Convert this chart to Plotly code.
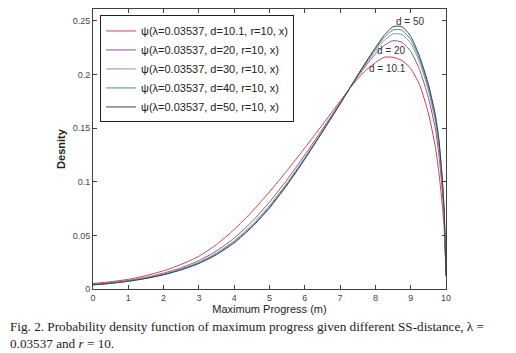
import plotly.graph_objects as go

x_vals = [0, 0.5, 1, 1.5, 2, 2.5, 3, 3.5, 4, 4.5, 5, 5.5, 6, 6.5, 7, 7.25, 7.5, 7.75,
          8, 8.25, 8.5, 8.75, 9, 9.25, 9.5, 9.7, 9.8, 9.9, 9.95, 10]

psi_d10_1 = [0.0050, 0.0068, 0.0090, 0.0125, 0.0170, 0.0230, 0.0305, 0.0415, 0.0555, 0.0720,
             0.0905, 0.1105, 0.1315, 0.1530, 0.1750, 0.1860, 0.1960, 0.2045, 0.2110, 0.2160,
             0.2160, 0.2130, 0.2055, 0.1905, 0.1640, 0.1320, 0.1080, 0.0770, 0.0560, 0.0150]
psi_d20 = [0.0044, 0.0059, 0.0080, 0.0109, 0.0148, 0.0198, 0.0265, 0.0355, 0.0475, 0.0628,
           0.0810, 0.1020, 0.1250, 0.1490, 0.1735, 0.1860, 0.1980, 0.2090, 0.2190, 0.2270,
           0.2315, 0.2300, 0.2215, 0.2045, 0.1785, 0.1490, 0.1250, 0.0900, 0.0650, 0.0140]
psi_d30 = [0.0041, 0.0055, 0.0076, 0.0103, 0.0139, 0.0187, 0.0250, 0.0336, 0.0450, 0.0598,
           0.0778, 0.0990, 0.1225, 0.1472, 0.1728, 0.1860, 0.1988, 0.2108, 0.2220, 0.2318,
           0.2378, 0.2372, 0.2290, 0.2115, 0.1855, 0.1560, 0.1320, 0.0960, 0.0690, 0.0130]
psi_d40 = [0.0039, 0.0053, 0.0074, 0.0100, 0.0135, 0.0182, 0.0243, 0.0327, 0.0439, 0.0585,
           0.0765, 0.0980, 0.1217, 0.1468, 0.1726, 0.1860, 0.1992, 0.2118, 0.2238, 0.2345,
           0.2415, 0.2412, 0.2325, 0.2145, 0.1885, 0.1595, 0.1360, 0.0990, 0.0705, 0.0125]
psi_d50 = [0.0038, 0.0052, 0.0072, 0.0098, 0.0132, 0.0178, 0.0238, 0.0320, 0.0430, 0.0575,
           0.0755, 0.0970, 0.1210, 0.1465, 0.1725, 0.1860, 0.1995, 0.2125, 0.2250, 0.2365,
           0.2445, 0.2445, 0.2355, 0.2170, 0.1910, 0.1620, 0.1390, 0.1010, 0.0720, 0.0120]

series_names = ["ψ(λ=0.03537, d=10.1, r=10, x)", "ψ(λ=0.03537, d=20, r=10, x)",
                "ψ(λ=0.03537, d=30, r=10, x)", "ψ(λ=0.03537, d=40, r=10, x)",
                "ψ(λ=0.03537, d=50, r=10, x)"]
series_vals = [psi_d10_1, psi_d20, psi_d30, psi_d40, psi_d50]
colors = ["#d0404a", "#9050a0", "#8a96a4", "#3f8f8a", "#404048"]

label_text = ["d = 50", "d = 20", "d = 10.1"]
label_x = [9.0, 8.47, 8.33]
label_y = [0.249, 0.222, 0.206]

x_ticks = [0, 1, 2, 3, 4, 5, 6, 7, 8, 9, 10]
y_ticks = [0, 0.05, 0.1, 0.15, 0.2, 0.25]
y_tick_text = ["0", "0.05", "0.1", "0.15", "0.2", "0.25"]

fig = go.Figure()
for name, vals, c in zip(series_names, series_vals, colors):
    fig.add_trace(go.Scatter(x=x_vals, y=vals, mode="lines", name=name,
                             line=dict(color=c, width=1, shape="spline", smoothing=0.6)))

for t, lx, ly in zip(label_text, label_x, label_y):
    fig.add_annotation(x=lx, y=ly, text=t, showarrow=False, xref="x", yref="y",
                       font=dict(family="Liberation Sans, Arial", size=10, color="#333333"))

fig.add_annotation(xref="paper", yref="paper", x=-0.242, y=-0.1, xanchor="left", yanchor="top",
                   align="left", showarrow=False,
                   text="Fig. 2. Probability density function of maximum progress given different SS-distance, λ =<br>"
                        "0.03537 and <i>r</i> = 10.",
                   font=dict(family="Liberation Serif, Times New Roman, serif", size=13.2, color="#222222"))

axis_common = dict(showline=True, linecolor="#404040", linewidth=1, mirror="ticks",
                   ticks="inside", ticklen=4, tickcolor="#404040", showgrid=False, zeroline=False,
                   tickfont=dict(family="Liberation Sans, Arial", size=9, color="#444444"))

fig.update_layout(
    width=516, height=353,
    margin=dict(l=93, r=70, t=9, b=64),
    paper_bgcolor="white", plot_bgcolor="white",
    xaxis=dict(range=[0, 10], tickvals=x_ticks,
               title=dict(text="Maximum Progress (m)", standoff=0,
                          font=dict(family="Liberation Sans, Arial", size=11, color="#222222")),
               **axis_common),
    yaxis=dict(range=[0, 0.261], tickvals=y_ticks, ticktext=y_tick_text,
               title=dict(text="<b>Desnity</b>", standoff=4,
                          font=dict(family="Liberation Sans, Arial", size=11, color="#222222")),
               **axis_common),
    legend=dict(x=0.02, y=0.977, xanchor="left", yanchor="top", bgcolor="white",
                bordercolor="#222222", borderwidth=1,
                font=dict(family="Liberation Sans, Arial", size=11, color="#222222"),
                tracegroupgap=0, itemwidth=30),
    showlegend=True,
)

fig.write_html("out.html")
